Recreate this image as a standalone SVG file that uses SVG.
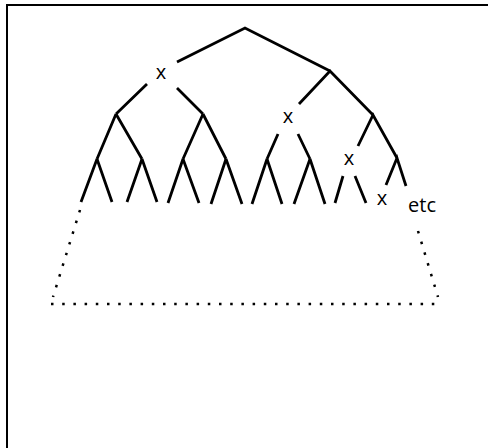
<svg xmlns="http://www.w3.org/2000/svg" width="488" height="448" viewBox="0 0 488 448">
<style>
.e{stroke:#000;stroke-width:2.8;fill:none;stroke-linecap:butt}
.d{stroke:#000;stroke-width:2.5;fill:none;stroke-dasharray:2.5 8.7}
text{font-family:"Open Sans","Liberation Sans",sans-serif;font-size:20px;font-weight:500;fill:#000;text-anchor:middle}
</style>
<rect width="488" height="448" fill="#fff"/>
<path d="M7,448 V5 H488" stroke="#000" stroke-width="2" fill="none"/>
<g id="connectors">
<path class="e" d="M177,62 L245,28 L330,71"/>
<path class="e" d="M147,84 L116,114 M177,88 L203,114"/>
<path class="e" d="M299,104 L330,71 L373,115"/>
<path class="e" d="M116,114 L97,159 M116,114 L142,159 M203,114 L183,159 M203,114 L226,159"/>
<path class="e" d="M278,134 L267,159 M298,134 L310,159"/>
<path class="e" d="M358,146 L373,115 L397,158"/>
<path class="e" d="M97,159 L81,202 M97,159 L112,202 M142,159 L127,202 M142,159 L157,202"/>
<path class="e" d="M183,159 L168,203 M183,159 L199,203 M226,159 L211,204 M226,159 L242,204"/>
<path class="e" d="M267,159 L252,204 M267,159 L282,204 M310,159 L294,204 M310,159 L325,204"/>
<path class="e" d="M343,176 L335,203 M355,176 L366,203"/>
<path class="e" d="M386,185 L397,158 L406,186"/>
<path class="d" d="M80,210 L53,297"/>
<path class="d" d="M51,304 H441"/>
<path class="d" d="M418,231 L438,297"/>
</g>
<g id="n1"><text x="161" y="79">x</text></g>
<g id="n2"><text x="288" y="123">x</text></g>
<g id="n3"><text x="349" y="165">x</text></g>
<g id="n4"><text x="382" y="205">x</text></g>
<g id="etc"><text x="422" y="212">etc</text></g>
</svg>
